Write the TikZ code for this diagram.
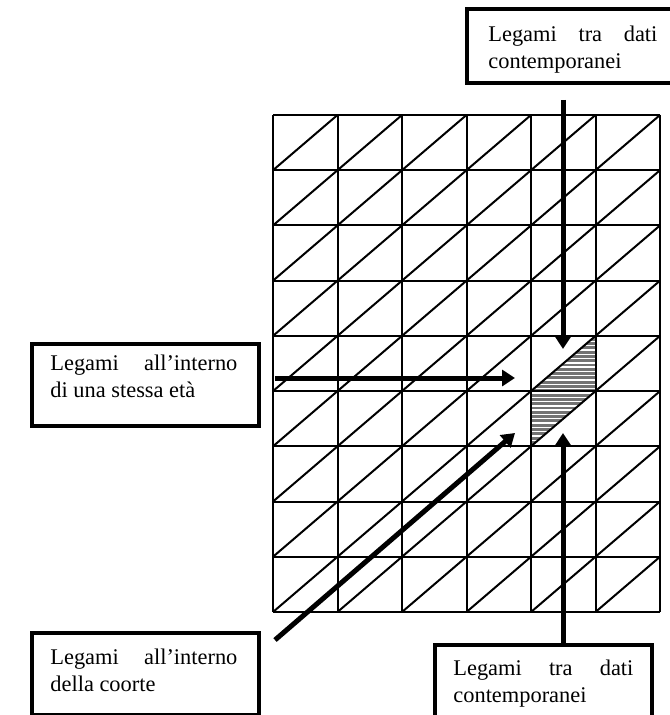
\documentclass[tikz,border=0pt]{standalone}
\usepackage{fontspec}
\setmainfont{Liberation Serif}
\usetikzlibrary{arrows.meta}

\tikzset{
  legbox/.style={draw, line width=1.8pt, fill=white, inner sep=0pt, anchor=north west},
  legtext/.style={anchor=base west, inner sep=0pt, align=justify, font=\fontsize{11.2}{13.5}\selectfont},
  bigarrow/.style={line width=2.5pt, -{Triangle[length=6.5pt, width=8pt]}},
  gridline/.style={line width=1pt}
}

\begin{document}
\begin{tikzpicture}[x=0.5pt, y=-0.5pt]
\useasboundingbox (0,0) rectangle (669,715);

% shaded cells
\begin{scope}
\clip (531,446.2) -- (531,391) -- (595.5,335.8) -- (595.5,391) -- cycle;
\fill[black!55] (530,334) rectangle (597,448);
\foreach \s in {0,...,26}
  \draw[white, line width=0.7pt] (530,{337+\s*4.3}) -- (597,{337+\s*4.3});
\end{scope}

% grid
\foreach \i in {0,...,6}
  \draw[gridline] ({273+\i*64.5},115) -- ({273+\i*64.5},612);
\foreach \j in {0,...,9}
  \draw[gridline] (273,{115+\j*55.22}) -- (660,{115+\j*55.22});
\foreach \i in {0,...,5}
  \foreach \j in {0,...,8}
    \draw[gridline] ({273+\i*64.5},{115+(\j+1)*55.22}) -- ({273+(\i+1)*64.5},{115+\j*55.22});

% boxes
\node[legbox, minimum width=105.5pt, minimum height=37pt] (topbox) at (465,7) {};
\node[legbox, minimum width=113.5pt, minimum height=41pt] (etabox) at (30,342) {};
\node[legbox, minimum width=113.5pt, minimum height=41pt] (coortebox) at (30,631) {};
\node[legbox, minimum width=108.5pt, minimum height=45pt] (contbox) at (433,643) {};

% texts
\begin{scope}
\clip (465,7) rectangle (680,73);
\node[legtext, text width=84.5pt] (toptext) at (488,42) {Legami tra dati\linebreak contemporanei};
\end{scope}
\node[legtext, text width=93.5pt] (etatext) at (50,370) {Legami all'interno\linebreak di una stessa età};
\node[legtext, text width=93.5pt] (coortetext) at (50,664) {Legami all'interno\linebreak della coorte};
\node[legtext, text width=90pt] (conttext) at (453,675) {Legami tra dati\linebreak contemporanei};

% arrows
\coordinate (toptail) at (563,100);
\coordinate (toptip) at (563,349);
\coordinate (lefttail) at (275,378);
\coordinate (lefttip) at (515,378);
\coordinate (diagtail) at (275,640);
\coordinate (diagtip) at (515,433);
\coordinate (bottail) at (563,643);
\coordinate (bottip) at (563,433);
\draw[bigarrow] (toptail) -- (toptip);
\draw[bigarrow] (lefttail) -- (lefttip);
\draw[bigarrow] (diagtail) -- (diagtip);
\draw[bigarrow] (bottail) -- (bottip);
\end{tikzpicture}
\end{document}
